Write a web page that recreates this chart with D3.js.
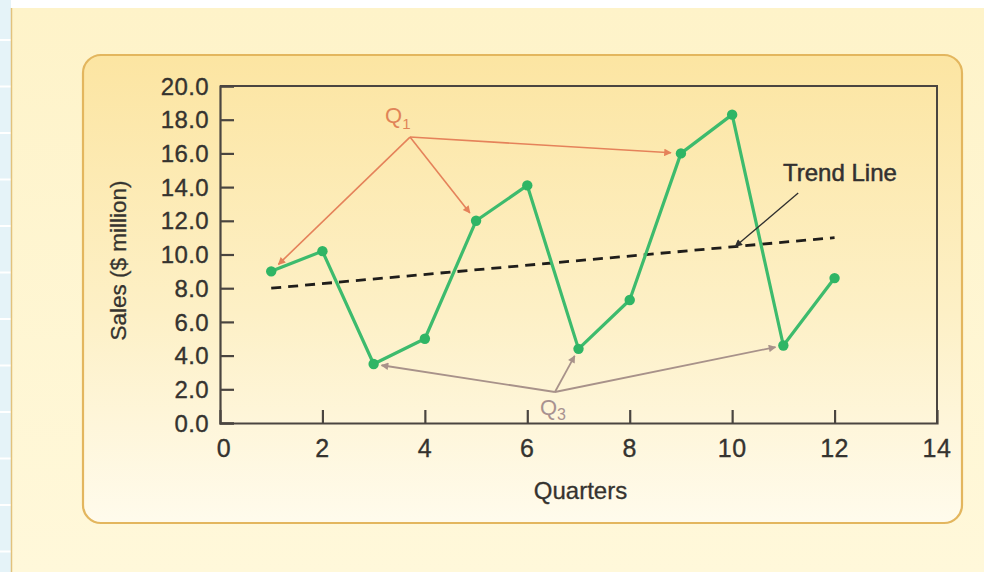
<!DOCTYPE html>
<html>
<head>
<meta charset="utf-8">
<script src="https://cdn.jsdelivr.net/npm/d3@7"></script>
<style>
  html, body { margin: 0; padding: 0; background: #fff; }
  svg { display: block; }
  text { font-family: "Liberation Sans", Arial, Helvetica, sans-serif; }
</style>
</head>
<body>
<svg id="chart" width="984" height="572"></svg>
<script>
// Quarterly sales, $ million
const quarters = [1, 2, 3, 4, 5, 6, 7, 8, 9, 10, 11, 12];
const sales = [9.0, 10.2, 3.5, 5.0, 12.0, 14.1, 4.4, 7.3, 16.0, 18.3, 4.6, 8.6];

// Linear trend endpoints (quarter, sales)
const trendQuarters = [1, 12];
const trendValues = [8.0, 11.0];

// Axis ticks
const xTicks = [0, 2, 4, 6, 8, 10, 12, 14];
const yTicks = [0, 2, 4, 6, 8, 10, 12, 14, 16, 18, 20];

// Callouts: label anchor (quarter, sales) and the quarters they point to
const q1Anchor = [3.71, 16.97];
const q1Targets = [1, 5, 9];
const q3Anchor = [6.54, 1.84];
const q3Targets = [3, 7, 11];
const trendLabelAnchor = [11.29, 13.65];
const trendLabelTarget = 10.06;

const svg = d3.select("#chart");
const W = 984, H = 572;

const defs = svg.append("defs");
const panelGrad = defs.append("linearGradient").attr("id", "panelGrad")
  .attr("x1", 0).attr("y1", 0).attr("x2", 0).attr("y2", 1);
panelGrad.append("stop").attr("offset", "0%").attr("stop-color", "#fce5a2");
panelGrad.append("stop").attr("offset", "55%").attr("stop-color", "#fdf0c6");
panelGrad.append("stop").attr("offset", "100%").attr("stop-color", "#fffbec");

const pageGrad = defs.append("linearGradient").attr("id", "pageGrad")
  .attr("x1", 0).attr("y1", 0).attr("x2", 0).attr("y2", 1);
pageGrad.append("stop").attr("offset", "0%").attr("stop-color", "#fef3c9");
pageGrad.append("stop").attr("offset", "100%").attr("stop-color", "#fff8da");

function marker(id, color) {
  defs.append("marker").attr("id", id)
    .attr("viewBox", "0 0 10 10").attr("refX", 9).attr("refY", 5)
    .attr("markerWidth", 10).attr("markerHeight", 7.5)
    .attr("markerUnits", "userSpaceOnUse")
    .attr("orient", "auto")
    .append("path").attr("d", "M0,0 L10,5 L0,10 Z").attr("fill", color);
}
marker("arrQ1", "#e5825a");
marker("arrQ3", "#a8928a");
marker("arrTrend", "#2e2e2e");

// Page background with the blue margin strip
svg.append("rect").attr("width", W).attr("height", H).attr("fill", "#ffffff");
svg.append("rect").attr("x", 0).attr("y", 0).attr("width", 11).attr("height", H).attr("fill", "#e5f3f8");
d3.range(40, H, 46.5).forEach(y => {
  svg.append("line").attr("x1", 0).attr("x2", 11).attr("y1", y).attr("y2", y)
    .attr("stroke", "#ffffff").attr("stroke-width", 2);
});
svg.append("rect").attr("x", 11).attr("y", 8).attr("width", W - 11).attr("height", H - 8)
  .attr("fill", "url(#pageGrad)");
svg.append("line").attr("x1", 11.5).attr("x2", 11.5).attr("y1", 8).attr("y2", H)
  .attr("stroke", "#e2c27c").attr("stroke-width", 1.5);

// Rounded panel
svg.append("rect").attr("x", 83).attr("y", 55).attr("width", 879).attr("height", 468)
  .attr("rx", 18).attr("ry", 18)
  .attr("fill", "url(#panelGrad)").attr("stroke", "#e3b65e").attr("stroke-width", 2.2);

// Scales
const x = d3.scaleLinear().domain([0, 14]).range([220, 937]);
const y = d3.scaleLinear().domain([0, 20]).range([423, 86]);

const axisColor = "#4a4540";
const textColor = "#35332f";

// Frame: top and right edges
svg.append("path")
  .attr("d", `M${x(0)},${y(20)} H${x(14)} V${y(0)}`)
  .attr("fill", "none").attr("stroke", axisColor).attr("stroke-width", 2);

// Y axis (ticks point inward)
const yAxis = d3.axisRight(y).tickValues(yTicks).tickSize(14).tickFormat("");
const gy = svg.append("g").attr("transform", `translate(${x(0)},0)`).call(yAxis);
gy.select(".domain").attr("stroke", axisColor).attr("stroke-width", 2.2);
gy.selectAll(".tick line").attr("stroke", axisColor).attr("stroke-width", 2.2);
svg.append("g").selectAll("text").data(yTicks).join("text")
  .attr("x", x(0) - 11).attr("y", d => y(d)).attr("dy", "0.36em")
  .attr("text-anchor", "end").attr("font-size", 24).attr("fill", textColor)
  .attr("stroke", textColor).attr("stroke-width", 0.35)
  .attr("letter-spacing", 0.4)
  .text(d => d3.format(".1f")(d));

// X axis (ticks point inward)
const xAxis = d3.axisTop(x).tickValues(xTicks).tickSize(13).tickFormat("");
const gx = svg.append("g").attr("transform", `translate(0,${y(0)})`).call(xAxis);
gx.select(".domain").attr("stroke", axisColor).attr("stroke-width", 2.2);
gx.selectAll(".tick line").attr("stroke", axisColor).attr("stroke-width", 2.2)
  .attr("opacity", d => (d === 0 || d === 14) ? 0 : 1);
svg.append("g").selectAll("text").data(xTicks).join("text")
  .attr("x", d => x(d) + (d === 0 ? 4 : 0)).attr("y", y(0) + 34)
  .attr("text-anchor", "middle").attr("font-size", 25).attr("fill", textColor)
  .attr("stroke", textColor).attr("stroke-width", 0.35)
  .attr("letter-spacing", 0.5)
  .text(d => d);

// Axis titles
svg.append("text").attr("x", x(7) + 2).attr("y", 499)
  .attr("text-anchor", "middle").attr("font-size", 24).attr("fill", textColor)
  .attr("stroke", textColor).attr("stroke-width", 0.3)
  .text("Quarters");
svg.append("text")
  .attr("transform", `translate(126,${y(10) + 6}) rotate(-90)`)
  .attr("text-anchor", "middle").attr("font-size", 22.5).attr("fill", textColor)
  .attr("stroke", textColor).attr("stroke-width", 0.3)
  .text("Sales ($ million)");

// Trend line
svg.append("line")
  .attr("x1", x(trendQuarters[0])).attr("y1", y(trendValues[0]))
  .attr("x2", x(trendQuarters[1])).attr("y2", y(trendValues[1]))
  .attr("stroke", "#1f1d1a").attr("stroke-width", 2.8)
  .attr("stroke-dasharray", "10,7");

// Sales series
const pts = quarters.map((q, i) => [q, sales[i]]);
svg.append("path").datum(pts)
  .attr("d", d3.line().x(d => x(d[0])).y(d => y(d[1])))
  .attr("fill", "none").attr("stroke", "#3dbb6d").attr("stroke-width", 3.2)
  .attr("stroke-linejoin", "round");
svg.append("g").selectAll("circle").data(pts).join("circle")
  .attr("cx", d => x(d[0])).attr("cy", d => y(d[1])).attr("r", 5.2)
  .attr("fill", "#2fb565");

// Callout arrows, shortened so the heads stop before the markers
function arrow(from, to, gap, color, id, width) {
  const dx = to[0] - from[0], dy = to[1] - from[1];
  const len = Math.hypot(dx, dy);
  const ex = to[0] - dx / len * gap, ey = to[1] - dy / len * gap;
  svg.append("line").attr("x1", from[0]).attr("y1", from[1]).attr("x2", ex).attr("y2", ey)
    .attr("stroke", color).attr("stroke-width", width).attr("marker-end", `url(#${id})`);
}

const q1From = [x(q1Anchor[0]), y(q1Anchor[1])];
q1Targets.forEach(q => arrow(q1From, [x(q), y(sales[q - 1])], 10, "#e5825a", "arrQ1", 1.6));
const q3From = [x(q3Anchor[0]), y(q3Anchor[1])];
q3Targets.forEach(q => arrow(q3From, [x(q), y(sales[q - 1])], 8, "#a8928a", "arrQ3", 1.8));

const trendAtTarget = trendValues[0] + (trendValues[1] - trendValues[0]) *
  (trendLabelTarget - trendQuarters[0]) / (trendQuarters[1] - trendQuarters[0]);
arrow([x(trendLabelAnchor[0]), y(trendLabelAnchor[1])], [x(trendLabelTarget), y(trendAtTarget)],
  0, "#2e2e2e", "arrTrend", 1.3);

// Callout labels
const q1Label = svg.append("text").attr("x", q1From[0] - 25).attr("y", q1From[1] - 14)
  .attr("font-size", 22).attr("fill", "#e08458");
q1Label.append("tspan").text("Q");
q1Label.append("tspan").attr("dy", 6).attr("font-size", 15).text("1");

const q3Label = svg.append("text").attr("x", q3From[0] - 15).attr("y", q3From[1] + 23)
  .attr("font-size", 22).attr("fill", "#a89290");
q3Label.append("tspan").text("Q");
q3Label.append("tspan").attr("dy", 5).attr("font-size", 16).text("3");

svg.append("text").attr("x", 783).attr("y", 181)
  .attr("font-size", 24).attr("fill", "#333130")
  .attr("stroke", "#333130").attr("stroke-width", 0.5)
  .text("Trend Line");
</script>
</body>
</html>
